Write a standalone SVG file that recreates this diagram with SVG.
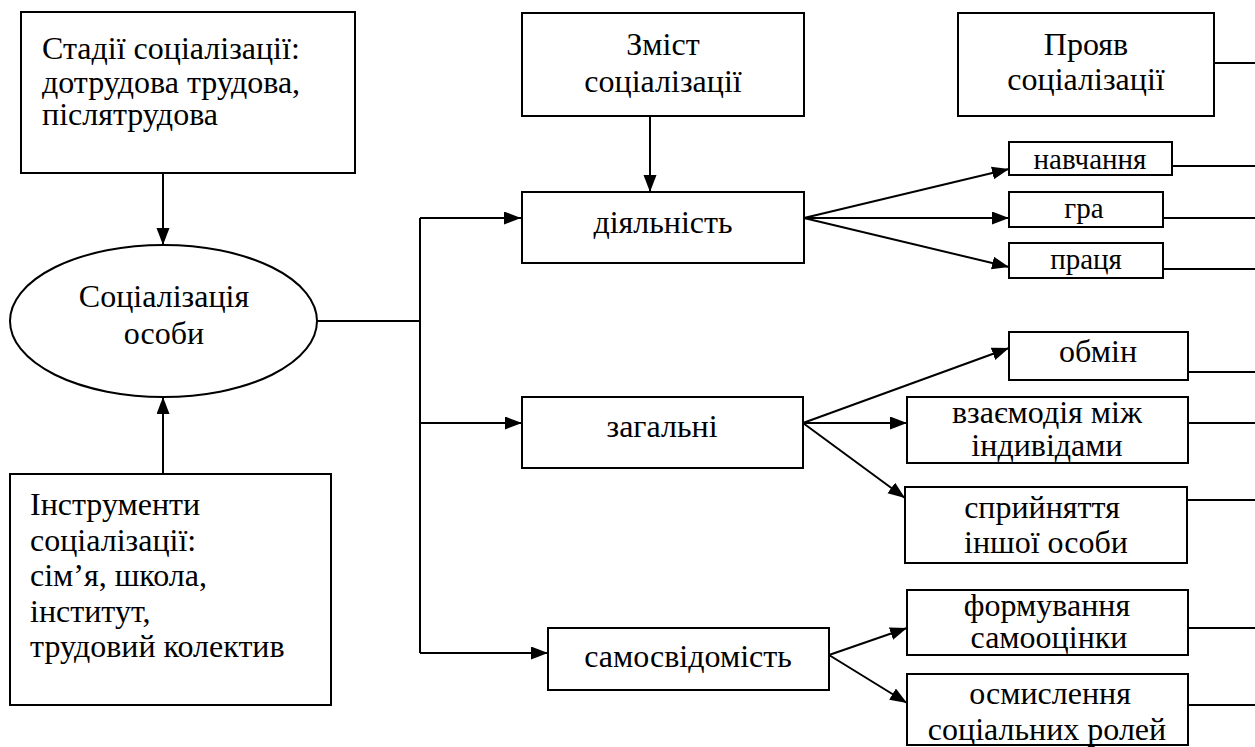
<svg xmlns="http://www.w3.org/2000/svg" width="1255" height="747" viewBox="0 0 1255 747">
<style>
.box{fill:#fff;stroke:#000;stroke-width:2}
.t{font-family:"Liberation Serif","Times New Roman",serif;font-size:32px;fill:#000}
.s{font-family:"Liberation Serif","Times New Roman",serif;font-size:29px;fill:#000}
.c{text-anchor:middle}
.ln{fill:none;stroke:#000;stroke-width:2}
</style>
<defs>
<marker id="ah" markerUnits="userSpaceOnUse" markerWidth="18" markerHeight="14" refX="17" refY="6.5" orient="auto">
<path d="M0,0 L17,6.5 L0,13 z" fill="#000"/>
</marker>
</defs>
<rect width="1255" height="747" fill="#fff"/>
<g id="connectors">
<path class="ln" d="M163,173 V245" marker-end="url(#ah)"/>
<path class="ln" d="M163,474 V397" marker-end="url(#ah)"/>
<path class="ln" d="M650,116 V192" marker-end="url(#ah)"/>
<path class="ln" d="M317,321 H420"/>
<path class="ln" d="M420,218 V653"/>
<path class="ln" d="M420,218 H521" marker-end="url(#ah)"/>
<path class="ln" d="M420,423 H522" marker-end="url(#ah)"/>
<path class="ln" d="M420,653 H548" marker-end="url(#ah)"/>
<path class="ln" d="M804,218 L1009,169" marker-end="url(#ah)"/>
<path class="ln" d="M804,218 L1009,218" marker-end="url(#ah)"/>
<path class="ln" d="M804,218 L1009,267" marker-end="url(#ah)"/>
<path class="ln" d="M803,423 L1009,348" marker-end="url(#ah)"/>
<path class="ln" d="M803,423 L907,423" marker-end="url(#ah)"/>
<path class="ln" d="M803,423 L905,498" marker-end="url(#ah)"/>
<path class="ln" d="M829,655 L907,628" marker-end="url(#ah)"/>
<path class="ln" d="M829,655 L907,703" marker-end="url(#ah)"/>
<path class="ln" d="M1214,63 H1255"/>
<path class="ln" d="M1172,166 H1255"/>
<path class="ln" d="M1163,218 H1255"/>
<path class="ln" d="M1163,269 H1255"/>
<path class="ln" d="M1188,372 H1255"/>
<path class="ln" d="M1188,423 H1255"/>
<path class="ln" d="M1187,500 H1255"/>
<path class="ln" d="M1188,628 H1255"/>
<path class="ln" d="M1188,705 H1255"/>
</g>
<g id="stages">
<rect class="box" x="21" y="12" width="334" height="161"/>
<text class="t" x="42" y="59">Стадії соціалізації:</text>
<text class="t" x="42" y="93">дотрудова трудова,</text>
<text class="t" x="42" y="125">післятрудова</text>
</g>
<g id="socialization">
<ellipse class="box" cx="163.5" cy="321" rx="153.5" ry="76"/>
<text class="t c" x="164" y="307">Соціалізація</text>
<text class="t c" x="164" y="344">особи</text>
</g>
<g id="instruments">
<rect class="box" x="10" y="474" width="321" height="231"/>
<text class="t" x="30" y="515">Інструменти</text>
<text class="t" x="30" y="551">соціалізації:</text>
<text class="t" x="30" y="586">сім’я, школа,</text>
<text class="t" x="30" y="622">інститут,</text>
<text class="t" x="30" y="657">трудовий колектив</text>
</g>
<g id="content">
<rect class="box" x="522" y="13" width="282" height="103"/>
<text class="t c" x="663" y="55">Зміст</text>
<text class="t c" x="663" y="92">соціалізації</text>
</g>
<g id="manifest">
<rect class="box" x="958" y="13" width="256" height="103"/>
<text class="t c" x="1086" y="55">Прояв</text>
<text class="t c" x="1086" y="90">соціалізації</text>
</g>
<g id="activity">
<rect class="box" x="522" y="192" width="282" height="71"/>
<text class="t c" x="663" y="233">діяльність</text>
</g>
<g id="general">
<rect class="box" x="522" y="397" width="281" height="71"/>
<text class="t c" x="662" y="437">загальні</text>
</g>
<g id="selfawareness">
<rect class="box" x="548" y="628" width="281" height="62"/>
<text class="t c" x="688" y="667">самосвідомість</text>
</g>
<g id="learning">
<rect class="box" x="1009" y="142" width="163" height="33"/>
<text class="s c" x="1090" y="169">навчання</text>
</g>
<g id="game">
<rect class="box" x="1009" y="192" width="154" height="35"/>
<text class="s c" x="1084" y="218">гра</text>
</g>
<g id="work">
<rect class="box" x="1009" y="243" width="154" height="35"/>
<text class="s c" x="1086" y="269">праця</text>
</g>
<g id="exchange">
<rect class="box" x="1009" y="332" width="179" height="48"/>
<text class="t c" x="1098" y="362">обмін</text>
</g>
<g id="interaction">
<rect class="box" x="907" y="397" width="281" height="66"/>
<text class="t c" x="1047" y="423">взаємодія між</text>
<text class="t c" x="1047" y="456">індивідами</text>
</g>
<g id="perception">
<rect class="box" x="905" y="487" width="282" height="76"/>
<text class="t c" x="1042" y="518">сприйняття</text>
<text class="t c" x="1046" y="553">іншої особи</text>
</g>
<g id="selfesteem">
<rect class="box" x="907" y="590" width="281" height="65"/>
<text class="t c" x="1047" y="616">формування</text>
<text class="t c" x="1049" y="648">самооцінки</text>
</g>
<g id="roles">
<rect class="box" x="907" y="674" width="281" height="71"/>
<text class="t c" x="1050" y="704">осмислення</text>
<text class="t c" x="1047" y="740">соціальних ролей</text>
</g>
</svg>
